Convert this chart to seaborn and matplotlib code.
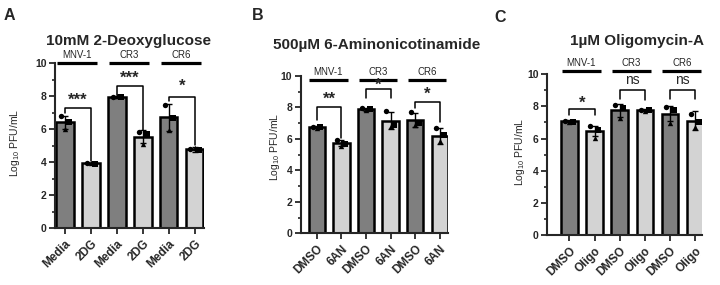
import numpy as np
import pandas as pd
import matplotlib
matplotlib.use("Agg")
import matplotlib.pyplot as plt
import seaborn as sns

sns.set_style("ticks")
plt.rcParams['font.family'] = ['Liberation Sans', 'DejaVu Sans']
plt.rcParams['mathtext.fontset'] = 'custom'
plt.rcParams['mathtext.rm'] = 'Liberation Sans'

# ---------------- data ----------------
groups = ["MNV-1", "CR3", "CR6"]

A_title = "10mM 2-Deoxyglucose"
A_labels = ["Media", "2DG"] * 3
A_means = [6.42, 3.93, 7.97, 5.55, 6.72, 4.80]
A_sd = [0.40, 0.05, 0.05, 0.40, 0.80, 0.15]
A_points = [[6.80, 6.45, 6.00], [3.93, 3.92, 3.95], [7.97, 7.95, 8.00],
            [5.85, 5.70, 5.10], [7.50, 6.70, 5.95], [4.80, 4.72, 4.88]]
A_sig = ["***", "***", "*"]
A_sig_y = [7.87, 9.20, 8.70]
A_brk = [(7.00, 7.27, 4.10), (8.10, 8.62, 5.96), (7.73, 7.94, 5.05)]

B_title = "500µM 6-Aminonicotinamide"
B_labels = ["DMSO", "6AN"] * 3
B_means = [6.75, 5.72, 7.88, 7.15, 7.20, 6.20]
B_sd = [0.05, 0.20, 0.10, 0.55, 0.45, 0.50]
B_points = [[6.78, 6.75, 6.72], [5.90, 5.70, 5.55], [7.95, 7.88, 7.82],
            [7.75, 6.90, 6.80], [7.70, 7.00, 6.90], [6.70, 6.25, 5.85]]
B_sig = ["**", "*", "*"]
B_sig_y = [8.65, 9.52, 8.97]
B_brk = [(7.20, 8.05, 6.05), (8.60, 9.15, 8.60), (7.94, 8.35, 7.09)]

C_title = "1µM Oligomycin-A"
C_labels = ["DMSO", "Oligo"] * 3
C_means = [7.08, 6.45, 7.75, 7.75, 7.55, 7.10]
C_sd = [0.07, 0.30, 0.40, 0.05, 0.45, 0.60]
C_points = [[7.10, 7.05, 7.00], [6.75, 6.55, 6.05], [8.05, 7.90, 7.30],
            [7.78, 7.75, 7.72], [7.95, 7.75, 6.95], [7.55, 7.05, 6.70]]
C_sig = ["*", "ns", "ns"]
C_sig_y = [8.30, 9.60, 9.60]
C_brk = [(7.45, 7.80, 7.45), (8.43, 9.00, 8.40), (8.45, 9.00, 8.45)]

# ---------------- style ----------------
DARK = "#7f7f7f"
LIGHT = "#d3d3d3"
fig = plt.figure(figsize=(7.2, 2.85), dpi=100)
W, H = 720, 285

panels = [
    dict(title=A_title, labels=A_labels, means=A_means, sd=A_sd, pts=A_points,
         sig=A_sig, sig_y=A_sig_y, brk=A_brk, rect=(55, 63.3, 204, 228.3),
         xlim=(-0.385, 5.35), gline=10.0, letter="A", lpos=(9, 15.5),
         tpos=(128, 40.5), ylpos=(15, 143)),
    dict(title=B_title, labels=B_labels, means=B_means, sd=B_sd, pts=B_points,
         sig=B_sig, sig_y=B_sig_y, brk=B_brk, rect=(300.5, 76, 448, 233.3),
         xlim=(-0.66, 5.33), gline=9.75, letter="B", lpos=(258, 15),
         tpos=(377, 44.5), ylpos=(275, 147)),
    dict(title=C_title, labels=C_labels, means=C_means, sd=C_sd, pts=C_points,
         sig=C_sig, sig_y=C_sig_y, brk=C_brk, rect=(547, 74, 702, 235.3),
         xlim=(-0.89, 5.27), gline=10.2, letter="C", lpos=(500, 17.5),
         tpos=(637, 40.5), ylpos=(520, 152)),
]

markers = ["o", "s", "^"]
offsets = [-0.17, 0.15, 0.0]

for p in panels:
    x0, y0, x1, y1 = p["rect"]
    ax = fig.add_axes([x0 / W, 1 - y1 / H, (x1 - x0) / W, (y1 - y0) / H])
    ids = [f"{g} {lab}" for g in groups for lab in p["labels"][:2]]
    treat = ["ctrl", "trt"] * 3
    df = pd.DataFrame({"bar": ids, "value": p["means"], "treat": treat})
    sns.barplot(data=df, x="bar", y="value", hue="treat", order=ids,
                palette={"ctrl": DARK, "trt": LIGHT}, dodge=False, width=0.66,
                edgecolor="black", linewidth=1.8, errorbar=None, legend=False,
                ax=ax, zorder=2)
    pos = np.arange(len(ids))
    ax.errorbar(pos, p["means"], yerr=p["sd"], fmt="none", ecolor="black",
                elinewidth=1.0, capsize=2.5, capthick=1.0, zorder=4)
    for i, reps in enumerate(p["pts"]):
        for j, v in enumerate(reps):
            ax.scatter(i + offsets[j], v, marker=markers[j], s=15, color="black",
                       zorder=5, linewidths=0)
    ax.set_xlim(*p["xlim"])
    ax.set_ylim(0, 10)
    ax.set_yticks(np.arange(0, 11, 2))
    ax.set_yticks(np.arange(1, 10, 2), minor=True)
    ax.set_yticklabels([str(v) for v in range(0, 11, 2)], fontsize=7.5,
                       fontweight="bold")
    ax.set_xticks(pos)
    ax.set_xticklabels(p["labels"], rotation=45, ha="right",
                       rotation_mode="anchor", fontsize=8.5, fontweight="bold")
    ax.set_xlabel("")
    ax.set_ylabel("")
    for s in ["top", "right"]:
        ax.spines[s].set_visible(False)
    for s in ["left", "bottom"]:
        ax.spines[s].set_linewidth(1.5)
    ax.tick_params(axis="both", which="major", length=4, width=1.3, pad=2)
    ax.tick_params(axis="y", which="minor", length=2.5, width=1.2)
    ax.tick_params(axis="x", which="major", pad=3)

    # unit height in pixels, to place text visually
    upx = (y1 - y0) / 10.0

    # group lines and labels
    for k, g in enumerate(groups):
        xa, xb = 2 * k - 0.3, 2 * k + 1.25
        ax.plot([xa, xb], [p["gline"]] * 2, color="black", lw=2.3,
                clip_on=False, solid_capstyle="butt")
        ax.text((xa + xb) / 2, p["gline"] + 0.18, g, ha="center", va="bottom",
                fontsize=7, clip_on=False)

    # significance brackets
    for k, (lo, h, ro) in enumerate(p["brk"]):
        xl, xr = 2 * k, 2 * k + 1
        ax.plot([xl, xl, xr, xr], [lo, h, h, ro], color="black", lw=1.1,
                clip_on=False)
        lab = p["sig"][k]
        ty = p["sig_y"][k]
        if lab == "ns":
            ax.text((xl + xr) / 2, ty - 3.8 / upx, lab, ha="center",
                    va="baseline", fontsize=10)
        else:
            ax.text((xl + xr) / 2, ty - 6.3 / upx, lab, ha="center",
                    va="baseline", fontsize=12, fontweight="bold")

    fig.text(p["tpos"][0] / W, 1 - p["tpos"][1] / H, p["title"], ha="center",
             va="center", fontsize=11, fontweight="bold")
    fig.text(p["lpos"][0] / W, 1 - p["lpos"][1] / H, p["letter"], ha="center",
             va="center", fontsize=11.5, fontweight="bold")
    fig.text(p["ylpos"][0] / W, 1 - p["ylpos"][1] / H,
             r"Log$_\mathregular{10}$ PFU/mL", rotation=90, ha="center",
             va="center", fontsize=7.5)

fig.savefig("out.png", dpi=100)
